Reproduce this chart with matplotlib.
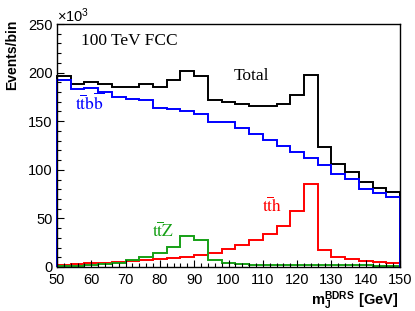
import numpy as np
import matplotlib
matplotlib.use("Agg")
import matplotlib.pyplot as plt

plt.rcParams["font.family"] = ["Liberation Sans", "DejaVu Sans"]
plt.rcParams["mathtext.fontset"] = "custom"
plt.rcParams["mathtext.rm"] = "Liberation Sans"
plt.rcParams["mathtext.bf"] = "Liberation Sans:bold"

# bin edges in GeV (25 bins of 4 GeV)
edges = np.arange(50, 151, 4)

# events per bin, in units of 10^3
total = [196, 188, 190, 188, 185.5, 185.5, 188, 185.5, 192, 202, 197, 172,
         170, 167.4, 165.6, 165.6, 168, 177, 198, 123, 105.6, 98, 87, 81, 76.8]
ttbb = [192, 183, 184, 180, 175, 173, 172, 164, 163, 160, 157, 149,
        148.8, 142.7, 136.5, 130.8, 124.5, 118.3, 112, 104.6, 95.4, 90.2, 80.2, 75.8, 71.7]
tth = [2.5, 3, 4, 4.5, 5.1, 5.8, 6.8, 7.9, 8.9, 10.3, 12, 14.7,
       18.3, 22.6, 27.4, 33.6, 42, 58, 85, 17.5, 10.3, 8.2, 6.5, 5.5, 4.4]
ttz = [1.4, 1, 1.7, 2.7, 4, 6.8, 10.2, 14.3, 20.9, 31.5, 27.4, 7.2,
       3.8, 3, 2.4, 2.2, 2, 2, 1.9, 1.8, 1.7, 1.6, 1.6, 1.5, 1.5]

green = "#16a016"

fig = plt.figure(figsize=(4.15, 3.11), dpi=100)
ax = fig.add_axes([57 / 415, 1 - 267 / 311, 343 / 415, 243 / 311])

lw = 1.4
ax.stairs(total, edges, baseline=0, color="black", lw=lw, clip_on=False)
ax.stairs(tth, edges, baseline=0, color="red", lw=lw, clip_on=False)
ax.stairs(ttz, edges, baseline=0, color=green, lw=lw, clip_on=False)
ax.stairs(ttbb, edges, baseline=0, color="blue", lw=lw, clip_on=False)

ax.set_xlim(50, 150)
ax.set_ylim(0, 250)
ax.set_xticks(np.arange(50, 151, 10))
ax.set_xticks(np.arange(50, 151, 2), minor=True)
ax.set_yticks(np.arange(0, 251, 50))
ax.set_yticks(np.arange(0, 251, 10), minor=True)
ax.tick_params(which="both", direction="in", top=False, right=False,
               labelsize=10.5, width=0.8)
ax.tick_params(which="major", length=5)
ax.tick_params(which="minor", length=2.8)
ax.tick_params(axis="x", pad=4)
ax.tick_params(axis="y", pad=3)
for s in ax.spines.values():
    s.set_linewidth(1.0)

# labels
fig.text(12 / 415, 1 - 20 / 311, "Events/bin", rotation=90, ha="center",
         va="top", fontsize=10, fontweight="bold")
fig.text(398 / 415, 1 - 305 / 311, r"$\mathbf{m_{J}^{BDRS}\ [GeV]}$",
         ha="right", va="baseline", fontsize=10.5)
fig.text(57 / 415, 1 - 22 / 311, r"$\mathrm{\times10^{3}}$",
         ha="left", va="baseline", fontsize=10.5)

serif = dict(family=["Liberation Serif", "DejaVu Serif"], fontsize=12.5,
             va="baseline", ha="left")
ax.text(57.0, 228.4, "100 TeV FCC", color="black", **serif)
ax.text(101.6, 192.4, "Total", color="black", **serif)
ax.text(55.2, 161.5, r"$\mathrm{t\overline{t}b\overline{b}}$", color="blue",
        math_fontfamily="stix", **serif)
ax.text(77.7, 31.2, r"$\mathrm{t\overline{t}Z}$", color=green,
        math_fontfamily="stix", **serif)
ax.text(109.8, 56.9, r"$\mathrm{t\overline{t}h}$", color="red",
        math_fontfamily="stix", **serif)

fig.savefig("out.png", dpi=100)
